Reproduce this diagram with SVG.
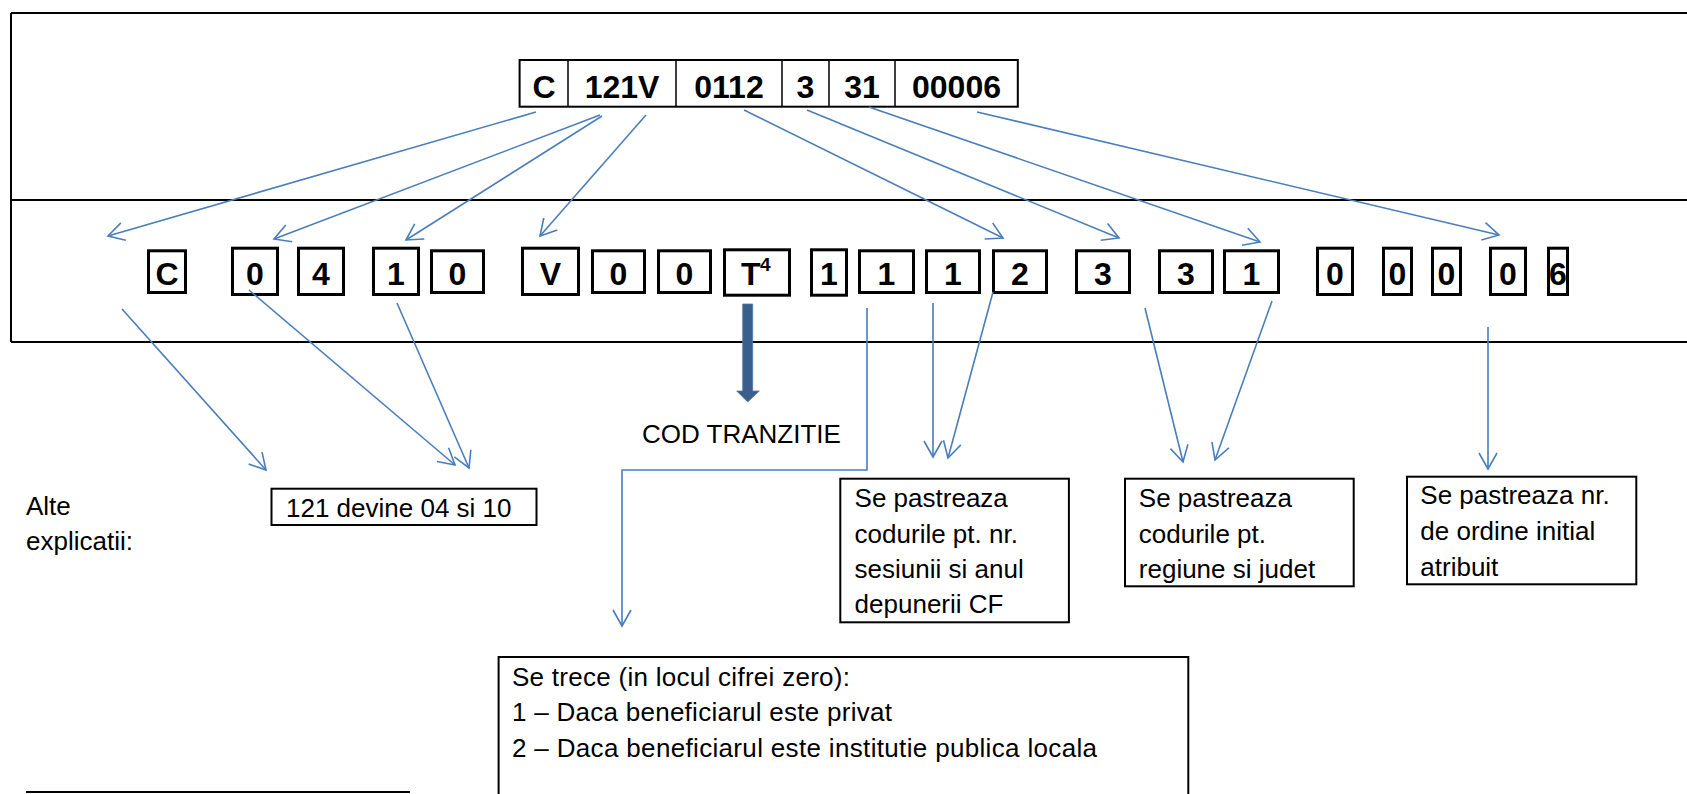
<svg xmlns="http://www.w3.org/2000/svg" width="1687" height="794" viewBox="0 0 1687 794">
<style>
.frame{stroke:#000;stroke-width:2;fill:none}
.bx{fill:#fff;stroke:#000;stroke-width:3}
.tb{fill:#fff;stroke:#000;stroke-width:2}
.dv{stroke:#000;stroke-width:1.5}
.big{font-family:"Liberation Sans",Arial,sans-serif;font-weight:bold;font-size:32px;fill:#000;text-anchor:middle}
.txt{font-family:"Liberation Sans",Arial,sans-serif;font-size:26px;fill:#000}
.con{stroke:#4a7ebb;stroke-width:1.6;fill:none;marker-end:url(#a)}
.lb{fill:#fff;stroke:#000;stroke-width:2}
</style>
<defs>
<marker id="a" markerUnits="userSpaceOnUse" markerWidth="22" markerHeight="22" viewBox="-20 -11 22 22" refX="0" refY="0" orient="auto" overflow="visible">
<path d="M-16,-9 L0,0 L-16,9" fill="none" stroke="#4a7ebb" stroke-width="1.6"/>
</marker>
</defs>
<rect width="1687" height="794" fill="#fff"/>
<g id="frame">
<path class="frame" d="M11,13 H1687 M11,13 V342 M11,200 H1687 M11,342 H1687"/>
<path d="M26,792 H410" stroke="#000" stroke-width="2"/>
</g>
<g id="code-top">
<rect class="tb" x="519.6" y="60" width="498.2" height="46.7"/>
<path class="dv" d="M568,60 V106.7 M676,60 V106.7 M782,60 V106.7 M829,60 V106.7 M895,60 V106.7"/>
<text class="big" y="97.5"><tspan x="544">C</tspan><tspan x="622">121V</tspan><tspan x="729">0112</tspan><tspan x="805.5">3</tspan><tspan x="862">31</tspan><tspan x="956.5">00006</tspan></text>
</g>
<g id="code-new">
<rect class="bx" x="148.5" y="250.8" width="37" height="41.7"/><text class="big" x="167" y="284.5">C</text>
<rect class="bx" x="232.5" y="248.2" width="45" height="46.3"/><text class="big" x="255" y="284.5">0</text>
<rect class="bx" x="298.5" y="248.2" width="45" height="46.3"/><text class="big" x="321" y="284.5">4</text>
<rect class="bx" x="373.5" y="248.2" width="45" height="46.3"/><text class="big" x="396" y="284.5">1</text>
<rect class="bx" x="431.5" y="250.8" width="52" height="41.7"/><text class="big" x="457.5" y="284.5">0</text>
<rect class="bx" x="522.5" y="248.2" width="56" height="46.3"/><text class="big" x="550.5" y="284.5">V</text>
<rect class="bx" x="592.5" y="250.8" width="52" height="41.7"/><text class="big" x="618.5" y="284.5">0</text>
<rect class="bx" x="658.5" y="250.8" width="52" height="41.7"/><text class="big" x="684.5" y="284.5">0</text>
<rect class="bx" x="724.5" y="249.8" width="65" height="45.4"/><text class="big" x="741" y="285" style="text-anchor:start">T<tspan x="760" y="271" font-size="19">4</tspan></text>
<rect class="bx" x="811.5" y="249.8" width="35" height="45.4"/><text class="big" x="829" y="284.5">1</text>
<rect class="bx" x="859.5" y="250.8" width="54" height="41.7"/><text class="big" x="886.5" y="284.5">1</text>
<rect class="bx" x="926.5" y="250.8" width="53" height="41.7"/><text class="big" x="953" y="284.5">1</text>
<rect class="bx" x="993.5" y="250.8" width="53" height="41.7"/><text class="big" x="1020" y="284.5">2</text>
<rect class="bx" x="1076.5" y="250.8" width="53" height="41.7"/><text class="big" x="1103" y="284.5">3</text>
<rect class="bx" x="1159.5" y="250.8" width="53" height="41.7"/><text class="big" x="1186" y="284.5">3</text>
<rect class="bx" x="1224.5" y="250.8" width="54" height="41.7"/><text class="big" x="1251.5" y="284.5">1</text>
<rect class="bx" x="1317.5" y="248.2" width="35" height="46.3"/><text class="big" x="1335" y="284.5">0</text>
<rect class="bx" x="1383.5" y="248.2" width="28" height="46.3"/><text class="big" x="1397.5" y="284.5">0</text>
<rect class="bx" x="1432.5" y="248.2" width="28" height="46.3"/><text class="big" x="1446.5" y="284.5">0</text>
<rect class="bx" x="1490.5" y="248.2" width="35" height="46.3"/><text class="big" x="1508" y="284.5">0</text>
<rect class="bx" x="1548.5" y="248.2" width="19" height="46.3"/><text class="big" x="1558" y="284.5">6</text>
</g>
<g id="connectors">
<path class="con" d="M536,112 L108,236"/>
<path class="con" d="M600,115 L274,239"/>
<path class="con" d="M602,116 L406,240"/>
<path class="con" d="M646,115 L540,236"/>
<path class="con" d="M744,110 L1003,238"/>
<path class="con" d="M807,110 L1119,238"/>
<path class="con" d="M869,107 L1260,242"/>
<path class="con" d="M977,112 L1499,235"/>
<path class="con" d="M122,309 L266,470"/>
<path class="con" d="M249,290 L455,465"/>
<path class="con" d="M397,303 L469,468"/>
<path class="con" d="M867,308 V470 H622 V626"/>
<path class="con" d="M933,303 L933,457"/>
<path class="con" d="M993,292 L948,458"/>
<path class="con" d="M1145,308 L1183,462"/>
<path class="con" d="M1272,301 L1215,460"/>
<path class="con" d="M1488,327 L1488,469"/>
<path d="M742.7,304 H752.7 V391 H759.3 L747.7,402 L736.7,391 H742.7 Z" fill="#3a5f8d" stroke="#4f7aaa" stroke-width="0.8"/>
</g>
<g id="cod-tranzitie">
<text class="txt" x="642" y="442.7" font-size="24">COD TRANZITIE</text>
</g>
<g id="alte">
<text class="txt" x="26" y="515">Alte</text>
<text class="txt" x="26" y="550">explicatii:</text>
</g>
<g id="box-121">
<rect class="lb" x="271.5" y="488.7" width="265" height="36.3"/>
<text class="txt" x="286" y="516.7">121 devine 04 si 10</text>
</g>
<g id="box-sesiune">
<rect class="lb" x="840.3" y="478.7" width="228.6" height="143.6"/>
<text class="txt"><tspan x="854.6" y="506.7">Se pastreaza</tspan><tspan x="854.6" y="542.7">codurile pt. nr.</tspan><tspan x="854.6" y="578.3">sesiunii si anul</tspan><tspan x="854.6" y="613.3">depunerii CF</tspan></text>
</g>
<g id="box-regiune">
<rect class="lb" x="1125" y="478.7" width="228.7" height="107.6"/>
<text class="txt"><tspan x="1138.8" y="506.7">Se pastreaza</tspan><tspan x="1138.8" y="542.7">codurile pt.</tspan><tspan x="1138.8" y="578.3">regiune si judet</tspan></text>
</g>
<g id="box-ordine">
<rect class="lb" x="1407" y="476.7" width="229.3" height="107.6"/>
<text class="txt"><tspan x="1420.3" y="504">Se pastreaza nr.</tspan><tspan x="1420.3" y="540">de ordine initial</tspan><tspan x="1420.3" y="576">atribuit</tspan></text>
</g>
<g id="box-trece">
<rect class="lb" x="498.6" y="657" width="689.7" height="150"/>
<text class="txt" x="512" y="686" textLength="338">Se trece (in locul cifrei zero):</text>
<text class="txt" x="512" y="720.7" textLength="380">1 – Daca beneficiarul este privat</text>
<text class="txt" x="512" y="756.7" textLength="585">2 – Daca beneficiarul este institutie publica locala</text>
</g>
</svg>
